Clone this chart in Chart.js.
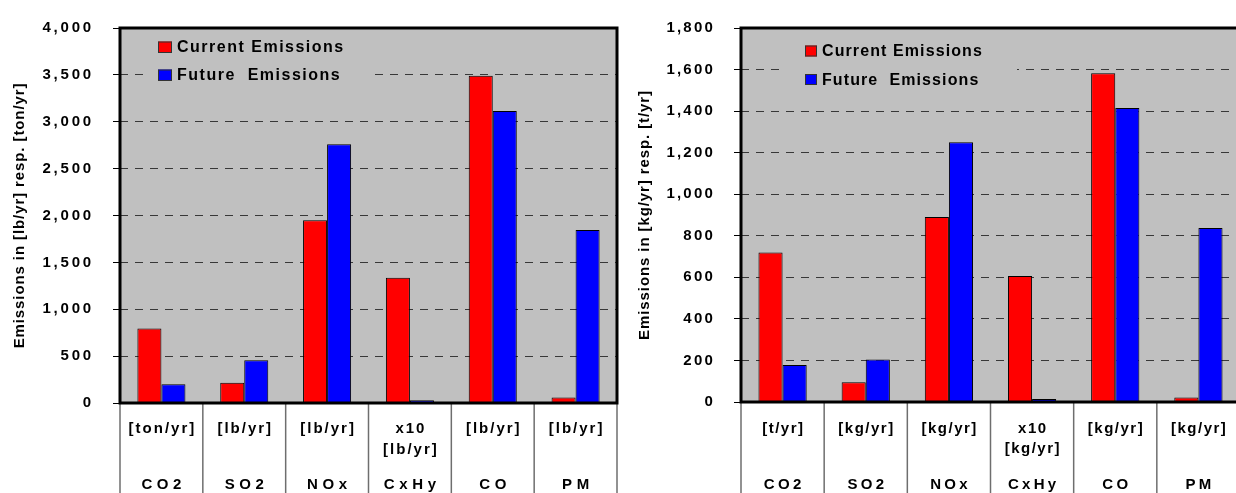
<!DOCTYPE html>
<html>
<head>
<meta charset="utf-8">
<script src="https://cdn.jsdelivr.net/npm/chart.js@4.4.1/dist/chart.umd.min.js"></script>
<style>
  html, body { margin: 0; padding: 0; background: #fff; }
  body { width: 1236px; height: 493px; overflow: hidden; position: relative; }
  #leftWrap { position: absolute; left: 0; top: 0; }
  #rightWrap { position: absolute; left: 620px; top: 0; }
</style>
</head>
<body>
<div id="leftWrap"><canvas id="leftChart" width="620" height="493"></canvas></div>
<div id="rightWrap"><canvas id="rightChart" width="630" height="493"></canvas></div>
<script>
const pollutants = ['CO2', 'SO2', 'NOx', 'CxHy', 'CO', 'PM'];
const unitsImperial = [['[ton/yr]'], ['[lb/yr]'], ['[lb/yr]'], ['x10', '[lb/yr]'], ['[lb/yr]'], ['[lb/yr]']];
const unitsMetric = [['[t/yr]'], ['[kg/yr]'], ['[kg/yr]'], ['x10', '[kg/yr]'], ['[kg/yr]'], ['[kg/yr]']];

const currentImperial = [795, 215, 1950, 1335, 3490, 60];
const futureImperial = [200, 455, 2760, 30, 3115, 1845];
const currentMetric = [720, 95, 890, 607, 1582, 22];
const futureMetric = [178, 204, 1250, 14, 1415, 838];

const seriesNames = ['Current Emissions', 'Future  Emissions'];
const seriesColors = ['#ff0000', '#0000ff'];

const FONT = 'Arial, "Liberation Sans", sans-serif';

// draws plot background, legend, frame, the unit table under the axis and the y title
function decorPlugin(cfg) {
    return {
        id: 'decor',
        beforeDraw(chart) {
            const { ctx, chartArea: a } = chart;
            ctx.save();
            ctx.fillStyle = '#c0c0c0';
            ctx.fillRect(a.left, a.top, a.right - a.left, a.bottom - a.top);
            ctx.restore();
            ctx.letterSpacing = cfg.tickSpacing; // picked up by the y tick labels
        },
        beforeDatasetsDraw(chart) {
            const { ctx } = chart;
            const lg = cfg.legend;
            ctx.save();
            ctx.fillStyle = '#c0c0c0';
            ctx.fillRect(lg.bgX, lg.bgY, lg.bgW, lg.bgH);
            ctx.font = `bold 16px ${FONT}`;
            ctx.letterSpacing = lg.spacing;
            ctx.textBaseline = 'alphabetic';
            ctx.textAlign = 'left';
            chart.data.datasets.forEach((ds, i) => {
                const y = lg.boxY + i * lg.rowGap;
                ctx.fillStyle = ds.backgroundColor;
                ctx.fillRect(lg.boxX, y, lg.boxW, lg.boxH);
                ctx.strokeStyle = '#333';
                ctx.lineWidth = 1;
                ctx.strokeRect(lg.boxX + 0.5, y + 0.5, lg.boxW - 1, lg.boxH - 1);
                ctx.fillStyle = '#000';
                ctx.fillText(ds.label, lg.textX, lg.textBase + i * lg.rowGap);
            });
            ctx.restore();
        },
        afterDraw(chart) {
            const { ctx, chartArea: a } = chart;
            const xs = chart.scales.x;
            const H = chart.height;
            ctx.save();
            ctx.letterSpacing = '0px';

            // table lines under the axis
            const n = chart.data.labels.length;
            const w = (a.right - a.left) / n;
            ctx.strokeStyle = '#6e6e6e';
            ctx.lineWidth = 1.5;
            for (let i = 0; i <= n; i++) {
                const x = a.left + i * w;
                ctx.beginPath();
                ctx.moveTo(x, a.bottom);
                ctx.lineTo(x, H);
                ctx.stroke();
            }

            // frame
            ctx.strokeStyle = '#000';
            ctx.lineWidth = 3;
            ctx.strokeRect(a.left, a.top, a.right - a.left, a.bottom - a.top);

            // unit and category rows
            ctx.fillStyle = '#000';
            ctx.textAlign = 'center';
            ctx.textBaseline = 'alphabetic';
            ctx.font = `bold 15px ${FONT}`;
            chart.data.labels.forEach((lab, i) => {
                const cx = xs.getPixelForValue(i);
                ctx.letterSpacing = cfg.unitSpacing + 'px';
                cfg.units[i].forEach((u, j) => {
                    ctx.fillText(u, cx + cfg.unitSpacing / 2, cfg.unitBase[j]);
                });
                ctx.letterSpacing = cfg.catSpacing + 'px';
                ctx.fillText(lab, cx + cfg.catSpacing / 2, cfg.catBase);
            });

            // y axis title
            ctx.letterSpacing = '0.9px';
            ctx.translate(cfg.titleX, (a.top + a.bottom) / 2);
            ctx.rotate(-Math.PI / 2);
            ctx.textBaseline = 'middle';
            ctx.fillText(cfg.title, 0, 0);
            ctx.restore();
        }
    };
}

function makeChart(id, cur, fut, max, step, cfg) {
    return new Chart(document.getElementById(id), {
        type: 'bar',
        data: {
            labels: pollutants,
            datasets: [
                { label: seriesNames[0], data: cur, backgroundColor: seriesColors[0] },
                { label: seriesNames[1], data: fut, backgroundColor: seriesColors[1] }
            ]
        },
        options: {
            responsive: false,
            animation: false,
            devicePixelRatio: 1,
            layout: { padding: cfg.padding },
            datasets: {
                bar: {
                    categoryPercentage: 0.58,
                    barPercentage: 1.0,
                    borderWidth: 1,
                    borderColor: '#000',
                    borderSkipped: 'start'
                }
            },
            plugins: { legend: { display: false }, tooltip: { enabled: false } },
            scales: {
                x: {
                    grid: { display: false },
                    border: { display: false },
                    ticks: { display: false },
                    afterFit: (s) => { s.height = cfg.xHeight; }
                },
                y: {
                    min: 0,
                    max: max,
                    ticks: {
                        stepSize: step,
                        color: '#000',
                        padding: 19,
                        font: { family: FONT, size: 15, weight: 'bold' },
                        callback: (v) => v.toLocaleString('en-US')
                    },
                    grid: {
                        color: '#383838',
                        lineWidth: 1,
                        tickLength: 7,
                        tickColor: '#000',
                        tickWidth: 1
                    },
                    border: { display: false, dash: [8, 7] },
                    afterFit: (s) => { s.width = cfg.yWidth; }
                }
            }
        },
        plugins: [decorPlugin(cfg)]
    });
}

makeChart('leftChart', currentImperial, futureImperial, 4000, 500, {
    padding: { left: 0, top: 18, right: 3, bottom: 0 },
    xHeight: 90,
    yWidth: 120,
    tickSpacing: '2.8px',
    units: unitsImperial,
    unitSpacing: 2,
    catSpacing: 4.6,
    unitBase: [433, 454],
    catBase: 489,
    title: 'Emissions in [lb/yr] resp. [ton/yr]',
    titleX: 20,
    legend: {
        bgX: 143, bgY: 28, bgW: 225, bgH: 62,
        boxX: 158, boxY: 41.5, boxW: 14, boxH: 11.5, rowGap: 28,
        textX: 177, textBase: 52.3, spacing: '1.5px'
    }
});

makeChart('rightChart', currentMetric, futureMetric, 1800, 200, {
    padding: { left: 0, top: 17, right: 10, bottom: 0 },
    xHeight: 91,
    yWidth: 121,
    tickSpacing: '2.2px',
    units: unitsMetric,
    unitSpacing: 1.5,
    catSpacing: 3.3,
    unitBase: [433, 452.5],
    catBase: 489,
    title: 'Emissions in [kg/yr] resp. [t/yr]',
    titleX: 25,
    legend: {
        bgX: 160, bgY: 30, bgW: 237, bgH: 64,
        boxX: 185, boxY: 45.5, boxW: 12, boxH: 11, rowGap: 28.5,
        textX: 202, textBase: 56, spacing: '1.1px'
    }
});
</script>
</body>
</html>
